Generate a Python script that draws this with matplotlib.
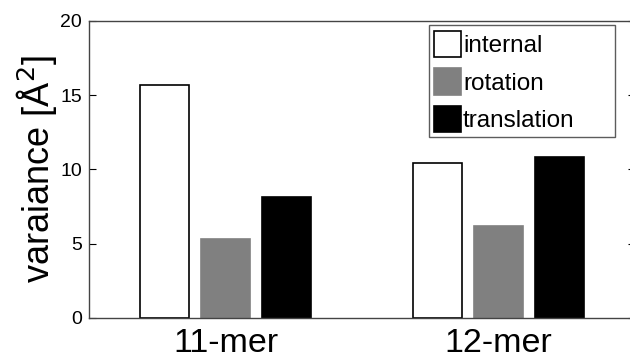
import numpy as np
import matplotlib.pyplot as plt
from matplotlib.patches import Patch

plt.rcParams['font.family'] = ['Liberation Sans', 'DejaVu Sans']

groups = ['11-mer', '12-mer']
series = ['internal', 'rotation', 'translation']
internal = [15.7, 10.45]
rotation = [5.3, 6.2]
translation = [8.15, 10.8]
yticks = [0, 5, 10, 15, 20]

faces = ['white', '#808080', 'black']
edges = ['black', '#808080', 'black']

fig = plt.figure(figsize=(6.3, 3.6), dpi=100)
# axes runs a little past the right edge, as in the original crop
ax = fig.add_axes([89/630, 42/360, 546/630, 297.3/360])

x = np.arange(1, len(groups) + 1)
offs = [-0.223, 0, 0.223]
for vals, off, fc, ec in zip([internal, rotation, translation], offs, faces, edges):
    ax.bar(x + off, vals, width=0.179, color=fc, edgecolor=ec, linewidth=1.2, zorder=2)

ax.set_xlim(0.5, 2.5)
ax.set_ylim(0, 20)
ax.set_yticks(yticks)
ax.set_xticks(x)
ax.set_xticklabels(groups, fontsize=24.5)
ax.tick_params(axis='y', labelsize=14, direction='in', right=True, length=5, width=0.8, pad=5)
ax.tick_params(axis='x', length=0, pad=7)
for s in ax.spines.values():
    s.set_color('#444444')
    s.set_linewidth(1.0)
    s.set_zorder(3)

ax.set_ylabel('varaiance [Å$^2$]', fontsize=26, labelpad=1)

handles = [Patch(facecolor=fc, edgecolor=ec, linewidth=1.2) for fc, ec in zip(faces, edges)]
leg = ax.legend(handles, series, loc='upper left',
                bbox_to_anchor=(429/630, 1 - 29/360, 186/630, 0.01),
                bbox_transform=fig.transFigure, mode='expand', fontsize=17.5,
                frameon=True, fancybox=False,
                handlelength=1.1, handleheight=1.3, handletextpad=0.08, labelspacing=0.45,
                borderpad=0.22, borderaxespad=0)
leg.get_frame().set_edgecolor('#333333')
leg.get_frame().set_linewidth(1.0)

plt.savefig('out.png', dpi=100)
